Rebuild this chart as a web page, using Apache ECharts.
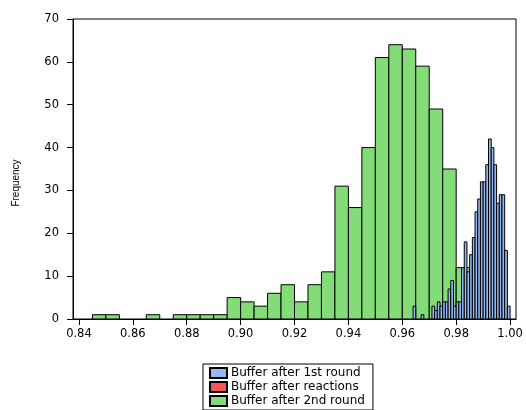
<!DOCTYPE html>
<html>
<head>
<meta charset="utf-8">
<script src="https://cdn.jsdelivr.net/npm/echarts@6/dist/echarts.min.js"></script>
<style>
  html, body { margin: 0; padding: 0; background: #fff; }
  #chart { width: 526px; height: 410px; }
</style>
</head>
<body>
<div id="chart"></div>
<script>
// histogram bins: start of each bin + count, bin widths fixed per series
const greenStart = 0.845;
const greenWidth = 0.005;
const greenCounts = [1, 1, 0, 0, 1, 0, 1, 1, 1, 1, 5, 4, 3, 6, 8, 4, 8, 11, 31, 26, 40, 61, 64, 63, 59, 49, 35, 12];

const blueStart = 0.964;
const blueWidth = 0.001;
const blueCounts = [3, 0, 0, 1, 0, 0, 0, 3, 2, 4, 3, 4, 4, 7, 9, 3, 4, 4, 12, 18, 11, 15, 19, 25, 28, 32, 32, 36, 42, 40, 36, 27, 29, 29, 16, 3];

const redCounts = [];   // nothing visible for this one

const xTicks = [0.84, 0.86, 0.88, 0.90, 0.92, 0.94, 0.96, 0.98, 1.00];
const seriesNames = ['Buffer after 1st round', 'Buffer after reactions', 'Buffer after 2nd round'];

const FONT = 'DejaVu Sans';

function toBins(start, width, counts) {
  const out = [];
  counts.forEach(function (c, i) {
    if (c > 0) out.push([start + i * width, c, width]);
  });
  return out;
}

function histItem(color) {
  return function (params, api) {
    const x0 = api.value(0);
    const w = api.value(2);
    const top = api.coord([x0, api.value(1)]);
    const bot = api.coord([x0 + w, 0]);
    return {
      type: 'rect',
      shape: { x: top[0], y: top[1], width: bot[0] - top[0], height: bot[1] - top[1] },
      style: { fill: color, stroke: '#000', lineWidth: 1 }
    };
  };
}

const colors = { blue: '#94b8f2', red: '#f75555', green: '#84dc78' };

const chart = echarts.init(document.getElementById('chart'));
chart.setOption({
  animation: false,
  backgroundColor: '#fff',
  grid: {
    left: 73, right: 10, top: 19, bottom: 91,
    show: true, borderColor: '#000', borderWidth: 1, backgroundColor: '#fff'
  },
  xAxis: {
    type: 'value',
    min: 0.8378,
    max: 1.0022,
    axisLine: { show: true, lineStyle: { color: '#000' } },
    axisTick: { show: true, length: 6, customValues: xTicks, lineStyle: { color: '#000' } },
    axisLabel: {
      customValues: xTicks,
      color: '#000', fontFamily: FONT, fontSize: 11.5, margin: 9,
      formatter: function (v) { return v.toFixed(2); }
    },
    splitLine: { show: false }
  },
  yAxis: {
    type: 'value',
    min: 0, max: 70, interval: 10,
    axisLine: { show: true, lineStyle: { color: '#000' } },
    axisTick: { show: true, length: 6, lineStyle: { color: '#000' } },
    axisLabel: { color: '#000', fontFamily: FONT, fontSize: 11.5, margin: 14 },
    splitLine: { show: false }
  },
  legend: {
    data: seriesNames,
    orient: 'vertical',
    left: 203, top: 364, height: 80,
    padding: [3, 8, 3, 6],
    itemWidth: 17, itemHeight: 10, itemGap: 2,
    borderColor: '#000', borderWidth: 1,
    backgroundColor: '#fff',
    icon: 'rect',
    textStyle: { color: '#000', fontFamily: FONT, fontSize: 12, padding: [0, 0, 0, -1] }
  },
  graphic: [{
    type: 'text',
    x: 16, y: 183,
    rotation: Math.PI / 2,
    style: {
      text: 'Frequency', fill: '#000', font: '10px Liberation Sans',
      textAlign: 'center', textVerticalAlign: 'middle'
    }
  }],
  series: [
    {
      name: seriesNames[2], type: 'custom',
      itemStyle: { color: colors.green, borderColor: '#000', borderWidth: 1 },
      encode: { x: 0, y: 1 },
      renderItem: histItem(colors.green),
      data: toBins(greenStart, greenWidth, greenCounts)
    },
    {
      name: seriesNames[1], type: 'custom',
      itemStyle: { color: colors.red, borderColor: '#000', borderWidth: 1 },
      encode: { x: 0, y: 1 },
      renderItem: histItem(colors.red),
      data: redCounts
    },
    {
      name: seriesNames[0], type: 'custom',
      itemStyle: { color: colors.blue, borderColor: '#000', borderWidth: 1 },
      encode: { x: 0, y: 1 },
      renderItem: histItem(colors.blue),
      data: toBins(blueStart, blueWidth, blueCounts)
    }
  ]
});
</script>
</body>
</html>
